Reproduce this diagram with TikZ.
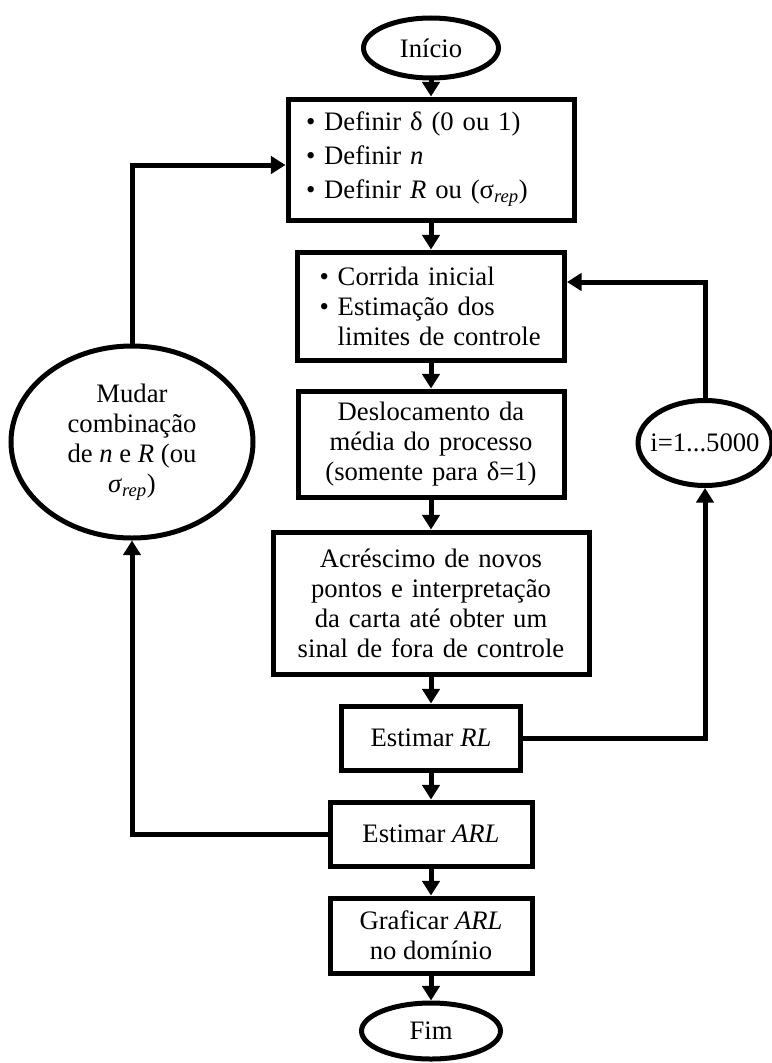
\documentclass[tikz,border=0pt]{standalone}
\usepackage{fontspec}
\setmainfont{Liberation Serif}
\usetikzlibrary{shapes.geometric,arrows.meta,calc}
\begin{document}
\begin{tikzpicture}[x=0.75pt,y=-0.75pt,
  txt/.style={font=\fontsize{20}{22.5}\selectfont},
  box/.style={draw, line width=3.75pt, inner ysep=0pt, txt},
  term/.style={draw, ellipse, line width=3.75pt, inner sep=0pt, txt},
  arr/.style={line width=3.75pt, -{Triangle[length=11pt,width=13pt]}},
  conn/.style={line width=3.75pt}]
\useasboundingbox (0,0) rectangle (771,1063);

\node[term, minimum width=101.25pt, minimum height=45pt] (inicio) at (431,48) {Início};

\node[box, minimum width=214.5pt, minimum height=90.75pt, inner xsep=13.5pt,
      text width=187.5pt, align=left, font=\fontsize{20}{25.5}\selectfont] (b1) at (431,159.5)
  {\textbullet\ Definir δ (0 ou 1)\\
   \textbullet\ Definir \textit{n}\\
   \textbullet\ Definir \textit{R} ou (σ\textsubscript{\textit{rep}})};

\node[box, minimum width=200.25pt, minimum height=81pt, inner xsep=16.5pt,
      text width=167.25pt, align=left] (b2) at (431,306)
  {\textbullet\ Corrida inicial\\
   \textbullet\ Estimação dos\\
   \phantom{\textbullet\ }limites de controle};

\node[box, minimum width=199.5pt, minimum height=79.5pt, inner xsep=6pt,
      text width=187.5pt, align=center] (b3) at (431,444)
  {Deslocamento da\\média do processo\\(somente para δ=1)};

\node[box, minimum width=237pt, minimum height=106.5pt, inner xsep=6pt,
      text width=225pt, align=center] (b4) at (431,603)
  {Acréscimo de novos\\pontos e interpretação\\da carta até obter um\\sinal de fora de controle};

\node[box, minimum width=134.25pt, minimum height=48pt] (b5) at (431,738) {Estimar \textit{RL}};

\node[box, minimum width=151.5pt, minimum height=48pt] (b6) at (431,834) {Estimar \textit{ARL}};

\node[box, minimum width=151.5pt, minimum height=56.25pt, align=center] (b7) at (431,935.5)
  {Graficar \textit{ARL}\\no domínio};

\node[term, minimum width=104.25pt, minimum height=42pt] (fim) at (431,1031) {Fim};

\node[term, minimum width=181.5pt, minimum height=144pt, align=center] (mudar) at (132,442)
  {Mudar\\combinação\\de \textit{n} e \textit{R} (ou\\\textit{σ}\textsubscript{\textit{rep}})};

\node[term, minimum width=100.5pt, minimum height=63.75pt,
      label={[txt]center:i=1...5000}] (iloop) at (705,443) {};

\draw[arr] (inicio) -- (b1);
\draw[arr] (b1) -- (b2);
\draw[arr] (b2) -- (b3);
\draw[arr] (b3) -- (b4);
\draw[arr] (b4) -- (b5);
\draw[arr] (b5) -- (b6);
\draw[arr] (b6) -- (b7);
\draw[arr] (b7) -- (fim);

\coordinate (b2in) at ($(b2.east)+(0,-24)$);
\coordinate (b1in) at ($(b1.west)+(0,5.5)$);

\draw[arr] (b5.east) -| (iloop.south);
\draw[arr] (iloop.north) |- (b2in);
\draw[arr] (b6.west) -| (mudar.south);
\draw[arr] (mudar.north) |- (b1in);
\end{tikzpicture}
\end{document}
